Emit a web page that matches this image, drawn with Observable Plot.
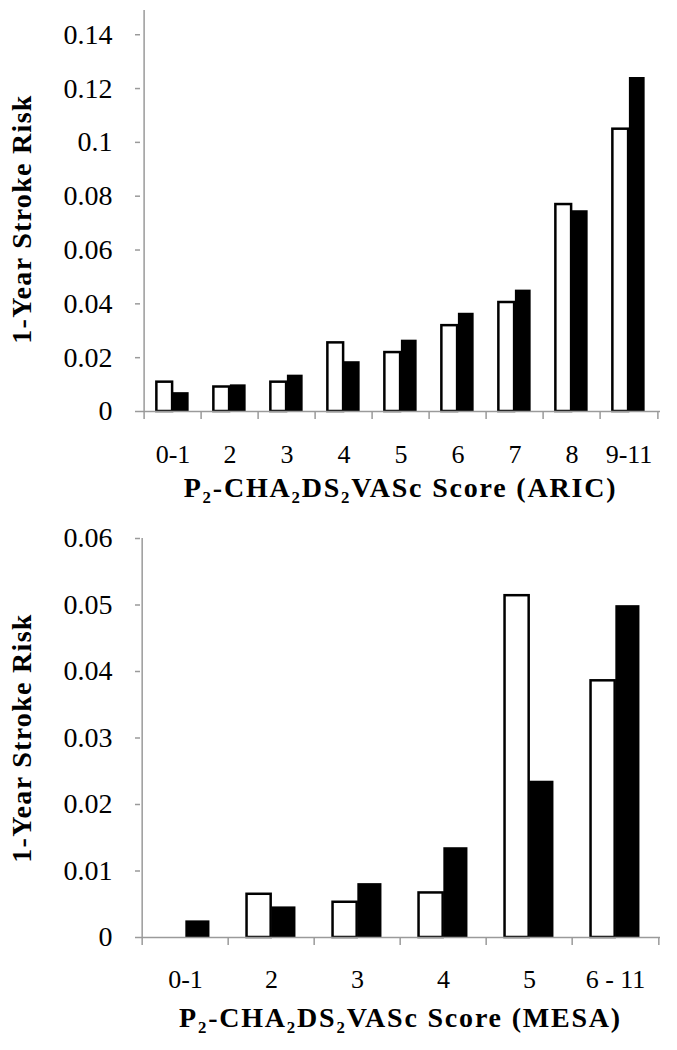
<!DOCTYPE html>
<html><head><meta charset="utf-8">
<script src="https://cdn.jsdelivr.net/npm/d3@7"></script>
<script src="https://cdn.jsdelivr.net/npm/@observablehq/plot@0.6"></script>
<style>body{margin:0;background:#fff} #chart svg{display:block}</style>
</head><body><div id="chart"></div>
<script>
const aricCategories = ["0-1", "2", "3", "4", "5", "6", "7", "8", "9-11"];
const aricWhite = [0.0109, 0.0091, 0.0109, 0.0255, 0.0219, 0.0319, 0.0405, 0.0769, 0.1049];
const aricBlack = [0.0070, 0.0099, 0.0135, 0.0185, 0.0265, 0.0365, 0.0451, 0.0746, 0.1241];
const aricTicks = [0, 0.02, 0.04, 0.06, 0.08, 0.1, 0.12, 0.14];

const mesaCategories = ["0-1", "2", "3", "4", "5", "6 - 11"];
const mesaWhite = [0, 0.0065, 0.0053, 0.0067, 0.0514, 0.0386];
const mesaBlack = [0.0025, 0.0046, 0.0081, 0.0135, 0.0235, 0.0499];
const mesaTicks = [0, 0.01, 0.02, 0.03, 0.04, 0.05, 0.06];

const yTitle = "1-Year Stroke Risk";
const aricTitle = "P₂-CHA₂DS₂VASc Score (ARIC)";
const mesaTitle = "P₂-CHA₂DS₂VASc Score (MESA)";

function panel({cats, white, black, ticks, yMax, title, height, marginTop, marginBottom, labelPad, titleDy, yTitleDy}) {
  const width = 677, marginLeft = 140, marginRight = 17;
  const bw = (width - marginLeft - marginRight) / cats.length;
  const rows = cats.map((c, i) => ({c, w: white[i], b: black[i]}));
  const fmt = d => String(+d.toFixed(2));
  const grey = "#9a9a9a";
  const font = "'Liberation Serif','Times New Roman',serif";
  const svg = Plot.plot({
    width, height, marginLeft, marginRight, marginTop, marginBottom,
    style: {fontFamily: font, color: "#000", background: "#fff", overflow: "visible"},
    x: {type: "band", domain: cats, padding: 0, axis: null},
    y: {domain: [0, yMax], axis: null},
    marks: [
      Plot.barY(rows, {x: "c", y: "w", fill: "#fff", stroke: "#000", strokeWidth: 2.5, insetLeft: 0.214 * bw, insetRight: 0.5 * bw}),
      Plot.barY(rows, {x: "c", y: "b", fill: "#000", insetLeft: 0.5 * bw, insetRight: 0.214 * bw}),
      Plot.ruleY([0], {stroke: grey, strokeWidth: 1.5}),
      Plot.ruleX([cats[0]], {dx: -bw / 2, stroke: grey, strokeWidth: 1.5}),
      Plot.axisY({ticks, tickSize: 5, tickFormat: () => "", stroke: grey, strokeWidth: 1.5, label: null}),
      Plot.axisY({ticks, tickSize: 0, tickPadding: 28, tickFormat: fmt, fontSize: 28, fill: "#000", label: null}),
      Plot.axisX({ticks: cats, tickSize: 8, tickFormat: () => "", dx: -bw / 2, stroke: grey, strokeWidth: 1.5, label: null}),
      Plot.axisX({ticks: [cats[cats.length - 1]], tickSize: 8, tickFormat: () => "", dx: bw / 2, stroke: grey, strokeWidth: 1.5, label: null}),
      Plot.axisX({ticks: cats, tickSize: 0, tickPadding: labelPad, fontSize: 26, fill: "#000", label: null}),
      Plot.text([title], {text: d => d, frameAnchor: "bottom", dy: titleDy, fontSize: 28, fontWeight: "bold", lineAnchor: "middle", textAnchor: "middle", fill: "#000"}),
      Plot.text([yTitle], {text: d => d, frameAnchor: "left", dx: -118, dy: yTitleDy, rotate: -90, fontSize: 28, fontWeight: "bold", textAnchor: "middle", lineAnchor: "middle", fill: "#000"})
    ]
  });
  d3.select(svg).selectAll("text").filter(function () { return this.textContent === yTitle; }).attr("letter-spacing", "1.3px");
  d3.select(svg).selectAll("text").filter(function () { return this.textContent === title; }).attr("letter-spacing", "1.8px");
  return svg;
}

const chart = document.getElementById("chart");
chart.append(panel({cats: aricCategories, white: aricWhite, black: aricBlack, ticks: aricTicks, yMax: 0.149,
  title: aricTitle, height: 512, marginTop: 10, marginBottom: 101, labelPad: 33, titleDy: 77, yTitleDy: 8}));
chart.append(panel({cats: mesaCategories, white: mesaWhite, black: mesaBlack, ticks: mesaTicks, yMax: 0.06,
  title: mesaTitle, height: 538, marginTop: 26, marginBottom: 113, labelPad: 32, titleDy: 81, yTitleDy: 0}));
</script>
</body></html>
